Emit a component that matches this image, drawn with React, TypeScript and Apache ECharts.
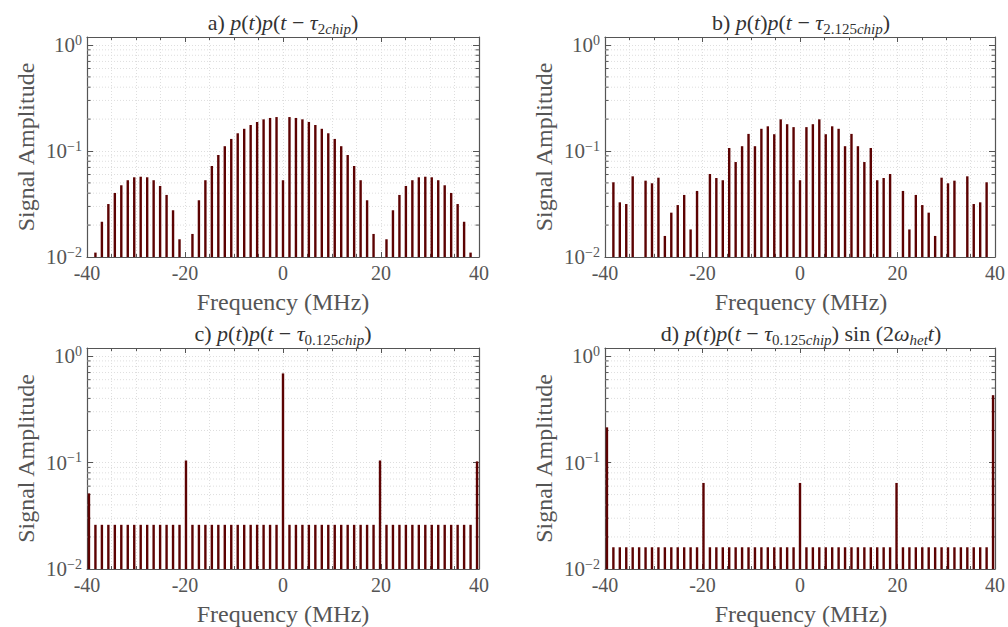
import React, { useEffect, useRef } from "react";
import * as echarts from "echarts";

// Frequency (MHz) of each spectral line
const freqs = [
  -39.6, -38.28, -36.96, -35.64, -34.32, -33, -31.68, -30.36, -29.04, -27.72,
  -26.4, -25.08, -23.76, -22.44, -21.12, -19.8, -18.48, -17.16, -15.84, -14.52,
  -13.2, -11.88, -10.56, -9.24, -7.92, -6.6, -5.28, -3.96, -2.64, -1.32,
  0,
  1.32, 2.64, 3.96, 5.28, 6.6, 7.92, 9.24, 10.56, 11.88, 13.2,
  14.52, 15.84, 17.16, 18.48, 19.8, 21.12, 22.44, 23.76, 25.08, 26.4,
  27.72, 29.04, 30.36, 31.68, 33, 34.32, 35.64, 36.96, 38.28, 39.6,
];

// a) p(t)p(t - tau_2chip)
const ampA = [
  null, 0.011, 0.0215, 0.0316, 0.0402, 0.0475, 0.053, 0.0565, 0.0572, 0.0565,
  0.053, 0.0468, 0.0385, 0.0276, 0.0147, null, 0.0165, 0.0343, 0.053, 0.0722,
  0.0917, 0.111, 0.13, 0.147, 0.162, 0.176, 0.188, 0.199, 0.205, 0.209,
  0.053,
  0.209, 0.205, 0.199, 0.188, 0.176, 0.162, 0.147, 0.13, 0.111, 0.0917,
  0.0722, 0.053, 0.0343, 0.0165, null, 0.0147, 0.0276, 0.0385, 0.0468, 0.053,
  0.0565, 0.0572, 0.0565, 0.053, 0.0475, 0.0402, 0.0316, 0.0215, 0.011, null,
];

// b) p(t)p(t - tau_2.125chip)
const ampB = [
  null, 0.0507, 0.0328, 0.0316, 0.0577, null, 0.0525, 0.0496, 0.056, 0.0158,
  0.0262, 0.0309, 0.0385, 0.0182, 0.042, null, 0.0607, 0.0556, 0.053, 0.1067,
  0.0787, 0.111, 0.145, 0.111, 0.162, 0.171, 0.144, 0.199, 0.179, 0.168,
  0.053,
  0.168, 0.179, 0.199, 0.144, 0.171, 0.162, 0.111, 0.145, 0.111, 0.0787,
  0.1067, 0.053, 0.0556, 0.0607, null, 0.042, 0.0182, 0.0385, 0.0309, 0.0262,
  0.0158, 0.056, 0.0496, 0.0525, null, 0.0577, 0.0316, 0.0328, 0.0507, null,
];

// c) p(t)p(t - tau_0.125chip)
const ampC = [
  0.0513, 0.026, 0.026, 0.026, 0.026, 0.026, 0.026, 0.026, 0.026, 0.026,
  0.026, 0.026, 0.026, 0.026, 0.026, 0.1045, 0.026, 0.026, 0.026, 0.026,
  0.026, 0.026, 0.026, 0.026, 0.026, 0.026, 0.026, 0.026, 0.026, 0.026,
  0.687,
  0.026, 0.026, 0.026, 0.026, 0.026, 0.026, 0.026, 0.026, 0.026, 0.026,
  0.026, 0.026, 0.026, 0.026, 0.1045, 0.026, 0.026, 0.026, 0.026, 0.026,
  0.026, 0.026, 0.026, 0.026, 0.026, 0.026, 0.026, 0.026, 0.026, 0.1025,
];

// d) p(t)p(t - tau_0.125chip) sin(2 w_het t)
const ampD = [
  0.214, 0.016, 0.016, 0.016, 0.016, 0.016, 0.016, 0.016, 0.016, 0.016,
  0.016, 0.016, 0.016, 0.016, 0.016, 0.0643, 0.016, 0.016, 0.016, 0.016,
  0.016, 0.016, 0.016, 0.016, 0.016, 0.016, 0.016, 0.016, 0.016, 0.016,
  0.0643,
  0.016, 0.016, 0.016, 0.016, 0.016, 0.016, 0.016, 0.016, 0.016, 0.016,
  0.016, 0.016, 0.016, 0.016, 0.0643, 0.016, 0.016, 0.016, 0.016, 0.016,
  0.016, 0.016, 0.016, 0.016, 0.016, 0.016, 0.016, 0.016, 0.016, 0.429,
];

const minorY = [0.02, 0.03, 0.04, 0.05, 0.06, 0.07, 0.08, 0.09, 0.2, 0.3, 0.4, 0.5, 0.6, 0.7, 0.8, 0.9];
const xLabelTicks = [-40, -20, 0, 20, 40];
const xName = "Frequency (MHz)";
const yName = "Signal Amplitude";

const titleTexts = [
  "{n|a) }{i|p}{n|(}{i|t}{n|)}{i|p}{n|(}{i|t}{n| − }{i|τ}{sn|2}{s|chip}{n|)}",
  "{n|b) }{i|p}{n|(}{i|t}{n|)}{i|p}{n|(}{i|t}{n| − }{i|τ}{sn|2.125}{s|chip}{n|)}",
  "{n|c) }{i|p}{n|(}{i|t}{n|)}{i|p}{n|(}{i|t}{n| − }{i|τ}{sn|0.125}{s|chip}{n|)}",
  "{n|d) }{i|p}{n|(}{i|t}{n|)}{i|p}{n|(}{i|t}{n| − }{i|τ}{sn|0.125}{s|chip}{n|) sin (2}{i|ω}{s|het}{i|t}{n|)}",
];

const SERIF = "Liberation Serif";
const AX = "#555555";
const GRIDC = "#dedede";
const STEM = "#5c0202";

const GRIDS = [
  { left: 87, top: 37, width: 392, height: 220 },
  { left: 605, top: 37, width: 392, height: 220 },
  { left: 87, top: 348, width: 392, height: 221 },
  { left: 605, top: 348, width: 392, height: 221 },
];

function buildOption() {
  const sets = [ampA, ampB, ampC, ampD];
  const xAxis: any[] = [];
  const yAxis: any[] = [];
  const series: any[] = [];
  const graphic: any[] = [];

  GRIDS.forEach((g, gi) => {
    xAxis.push({
      type: "value", gridIndex: gi, position: "bottom", min: -40, max: 40, interval: 20,
      axisLine: { show: true, onZero: false, lineStyle: { color: AX, width: 1.2 } },
      axisTick: { show: true, inside: true, length: 5, lineStyle: { color: AX } },
      minorTick: { show: true, splitNumber: 4, length: 3, lineStyle: { color: AX } },
      splitLine: { show: true, lineStyle: { color: GRIDC, type: [1, 2] } },
      minorSplitLine: { show: true, lineStyle: { color: GRIDC, type: [1, 2] } },
      axisLabel: {
        show: true, margin: 6, color: AX, fontFamily: SERIF, fontSize: 20,
        formatter: (v: number) => (xLabelTicks.indexOf(v) >= 0 ? String(v) : ""),
      },
    });
    xAxis.push({
      type: "value", gridIndex: gi, position: "top", min: -40, max: 40, interval: 20,
      axisLine: { show: true, onZero: false, lineStyle: { color: AX, width: 1.2 } },
      axisTick: { show: true, inside: true, length: 5, lineStyle: { color: AX } },
      minorTick: { show: true, splitNumber: 4, length: 3, lineStyle: { color: AX } },
      splitLine: { show: false },
      axisLabel: { show: false },
    });
    yAxis.push({
      type: "log", logBase: 10, gridIndex: gi, position: "left", min: 0.01, max: 1.19,
      axisLine: { show: true, onZero: false, lineStyle: { color: AX, width: 1.2 } },
      axisTick: { show: true, inside: true, length: 6, lineStyle: { color: AX } },
      splitLine: { show: true, lineStyle: { color: GRIDC, type: [1, 2] } },
      axisLabel: {
        show: true, margin: 5,
        formatter: (v: number) => {
          const l = Math.log10(v);
          const e = Math.round(l);
          if (Math.abs(l - e) > 1e-6) return "";
          return `{b|10}{p|${e === 0 ? "0" : "−" + -e}}`;
        },
        rich: {
          b: { fontFamily: SERIF, fontSize: 21, color: AX, lineHeight: 24 },
          p: { fontFamily: SERIF, fontSize: 14, color: AX, lineHeight: 12, verticalAlign: "top" },
        },
      },
    });
    yAxis.push({
      type: "log", logBase: 10, gridIndex: gi, position: "right", min: 0.01, max: 1.19,
      axisLine: { show: true, onZero: false, lineStyle: { color: AX, width: 1.2 } },
      axisTick: { show: true, inside: true, length: 6, lineStyle: { color: AX } },
      splitLine: { show: false },
      axisLabel: { show: false },
    });

    // minor log ticks and grid
    series.push({
      type: "custom", xAxisIndex: gi * 2, yAxisIndex: gi * 2, z: 1, silent: true,
      data: minorY.map((v) => [0, v]),
      renderItem: (params: any, api: any) => {
        const v = api.value(1);
        const l = api.coord([-40, v]);
        const r = api.coord([40, v]);
        return {
          type: "group",
          children: [
            { type: "line", shape: { x1: l[0], y1: l[1], x2: r[0], y2: r[1] }, style: { stroke: GRIDC, lineWidth: 1, lineDash: [1, 2] } },
            { type: "line", shape: { x1: l[0], y1: l[1], x2: l[0] + 3.5, y2: l[1] }, style: { stroke: AX, lineWidth: 1 } },
            { type: "line", shape: { x1: r[0] - 3.5, y1: r[1], x2: r[0], y2: r[1] }, style: { stroke: AX, lineWidth: 1 } },
          ],
        };
      },
    });

    const amps = sets[gi];
    const data: number[][] = [];
    freqs.forEach((f, i) => {
      const a = amps[i];
      if (a != null) data.push([f, a]);
    });
    series.push({
      type: "custom", xAxisIndex: gi * 2, yAxisIndex: gi * 2, z: 3, silent: true, clip: true,
      data,
      renderItem: (params: any, api: any) => {
        const top = api.coord([api.value(0), api.value(1)]);
        const bot = api.coord([api.value(0), 0.01]);
        return {
          type: "rect",
          shape: { x: top[0] - 1.2, y: top[1], width: 2.4, height: bot[1] - top[1] },
          style: { fill: STEM },
        };
      },
    });

    const cx = g.left + g.width / 2;
    const cy = g.top + g.height / 2;
    graphic.push({
      type: "text", x: cx, y: g.top - 15,
      style: {
        text: titleTexts[gi], align: "center", verticalAlign: "middle",
        rich: {
          n: { fontFamily: SERIF, fontSize: 22, fill: "#333", lineHeight: 28 },
          i: { fontFamily: SERIF, fontSize: 22, fontStyle: "italic", fill: "#333", lineHeight: 28 },
          sn: { fontFamily: SERIF, fontSize: 15, fill: "#333", lineHeight: 16, verticalAlign: "bottom" },
          s: { fontFamily: SERIF, fontSize: 15, fontStyle: "italic", fill: "#333", lineHeight: 16, verticalAlign: "bottom" },
        },
      },
    });
    graphic.push({
      type: "text", x: cx, y: g.top + g.height + 45,
      style: { text: xName, align: "center", verticalAlign: "middle", fontFamily: SERIF, fontSize: 24, fill: AX },
    });
    graphic.push({
      type: "text", x: g.left - 61, y: cy, rotation: Math.PI / 2,
      style: { text: yName, align: "center", verticalAlign: "middle", fontFamily: SERIF, fontSize: 24, fill: AX },
    });
  });

  return {
    animation: false,
    backgroundColor: "#ffffff",
    textStyle: { fontFamily: SERIF },
    grid: GRIDS.map((g) => ({ ...g, containLabel: false })),
    xAxis,
    yAxis,
    series,
    graphic,
  };
}

export default function App() {
  const ref = useRef<HTMLDivElement | null>(null);
  useEffect(() => {
    if (!ref.current) return;
    const chart = echarts.init(ref.current, null, { renderer: "svg" });
    chart.setOption(buildOption() as any);
    return () => chart.dispose();
  }, []);
  return (
    <div
      ref={ref}
      style={{ position: "fixed", left: 0, top: 0, width: 1008, height: 627, background: "#fff" }}
    />
  );
}
